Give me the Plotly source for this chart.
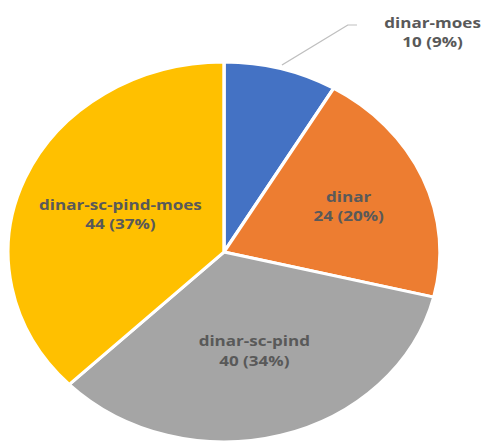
import math
import plotly.graph_objects as go

# Slice data (clockwise from 12 o'clock)
labels = ["dinar-moes", "dinar", "dinar-sc-pind", "dinar-sc-pind-moes"]
values = [10, 24, 40, 44]
pct_text = ["9%", "20%", "34%", "37%"]
colors = ["#4472C4", "#ED7D31", "#A5A5A5", "#FFC000"]
text_pos = ["none", "inside", "inside", "inside"]

W, H = 426, 500
stretch = 1.137
dom_x = [0.0164, 0.9085]
dom_y = [0.116, 0.876]
font = dict(family="Open Sans", size=15, color="#595959", weight="bold")

fig = go.Figure(
    go.Pie(
        labels=labels,
        values=values,
        customdata=pct_text,
        texttemplate="%{label}<br>%{value} (%{customdata})",
        textposition=text_pos,
        insidetextorientation="horizontal",
        sort=False,
        direction="clockwise",
        rotation=0,
        marker=dict(colors=colors, line=dict(color="white", width=3)),
        textfont=font,
        showlegend=False,
        hoverinfo="skip",
        domain=dict(x=dom_x, y=dom_y),
    )
)

# Leader line for the small slice, starting on the rim at the slice's mid-angle
total = sum(values)
mid_angle = 2 * math.pi * (values[0] / 2) / total
cx = (dom_x[0] + dom_x[1]) / 2
cy = (dom_y[0] + dom_y[1]) / 2
r_px = min((dom_x[1] - dom_x[0]) * W, (dom_y[1] - dom_y[0]) * H) / 2 * 1.02
x0 = cx + r_px * math.sin(mid_angle) / W
y0 = cy + r_px * math.cos(mid_angle) / H
x1, y1 = 0.718, 0.95
x2 = 0.737

fig.add_shape(
    type="path",
    xref="paper",
    yref="paper",
    path=f"M {x0},{y0} L {x1},{y1} L {x2},{y1}",
    line=dict(color="#BFBFBF", width=1.2),
)
fig.add_annotation(
    xref="paper",
    yref="paper",
    x=0.893,
    y=0.936,
    xanchor="center",
    yanchor="middle",
    showarrow=False,
    text=f"{labels[0]}<br>{values[0]} ({pct_text[0]})",
    font=font,
)

fig.update_layout(
    width=W,
    height=H,
    margin=dict(l=0, r=0, t=0, b=0),
    paper_bgcolor="white",
    plot_bgcolor="white",
)

post = (
    "document.body.style.margin='0';document.body.style.overflow='hidden';"
    "var d=document.getElementById('{plot_id}');"
    "d.style.transformOrigin='0 0';d.style.transform='scaleX(%s)';" % stretch
)
fig.write_html("out.html", post_script=post, config={"displayModeBar": False})
